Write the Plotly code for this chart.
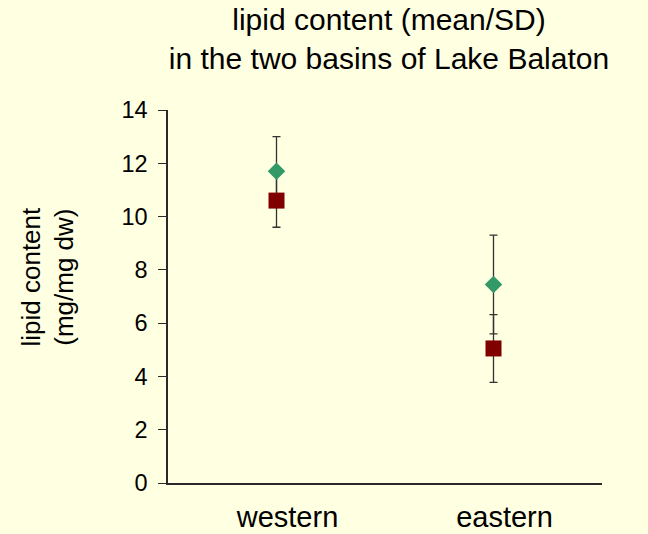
import plotly.graph_objects as go

# ---- data ----
basins = ["western", "eastern"]
series1_name = "series 1"
series1_mean = [11.7, 7.45]
series1_sd = [1.3, 1.85]
series2_name = "series 2"
series2_mean = [10.6, 5.05]
series2_sd = [1.0, 1.27]
y_ticks = [0, 2, 4, 6, 8, 10, 12, 14]

title_text = "lipid content (mean/SD)<br>in the two basins of Lake Balaton"
ytitle_text = "lipid content<br>(mg/mg dw)"

GREEN = "#339966"
RED = "#800000"
BG = "#FFFFE1"
FONT = "Liberation Sans, Arial, sans-serif"

fig = go.Figure()

# error bars first (under markers)
fig.add_trace(go.Scatter(
    x=basins, y=series1_mean, mode="markers", name=series1_name,
    marker=dict(size=1, opacity=0),
    error_y=dict(type="data", array=series1_sd, visible=True,
                 color="#333333", thickness=1.3, width=4),
    hoverinfo="skip", showlegend=False))
fig.add_trace(go.Scatter(
    x=basins, y=series2_mean, mode="markers", name=series2_name,
    marker=dict(size=1, opacity=0),
    error_y=dict(type="data", array=series2_sd, visible=True,
                 color="#333333", thickness=1.3, width=4),
    hoverinfo="skip", showlegend=False))
# markers
fig.add_trace(go.Scatter(
    x=basins, y=series2_mean, mode="markers", name=series2_name,
    marker=dict(symbol="square", size=16, color=RED, line=dict(width=0)),
    showlegend=False))
fig.add_trace(go.Scatter(
    x=basins, y=series1_mean, mode="markers", name=series1_name,
    marker=dict(symbol="diamond", size=13.5, color=GREEN, line=dict(width=0)),
    showlegend=False))

fig.update_layout(
    width=648, height=534,
    margin=dict(l=168, r=46, t=110, b=51, autoexpand=False),
    paper_bgcolor=BG, plot_bgcolor=BG,
    font=dict(family=FONT, color="#000000"),
    title=dict(text=title_text, font=dict(size=30, family=FONT, color="#000000"),
               x=389 / 648, xref="container", xanchor="center",
               y=1 - 30 / 534, yref="container", yanchor="top"),
    showlegend=False,
)

fig.update_xaxes(
    type="category", range=[-0.5, 1.5], automargin=False,
    showline=True, linecolor="#2a2a2a", linewidth=1.5,
    showgrid=False, zeroline=False, ticks="",
    tickfont=dict(size=29, family=FONT, color="#000000"),
    ticklabelshift=11, ticklabelstandoff=7,
)
fig.update_yaxes(
    range=[0, 14], tickvals=y_ticks, automargin=False,
    showline=True, linecolor="#2a2a2a", linewidth=1.5,
    showgrid=False, zeroline=False,
    ticks="outside", ticklen=8, tickwidth=1.3, tickcolor="#2a2a2a",
    tickfont=dict(size=23.5, family=FONT, color="#000000"),
    ticklabelstandoff=6,
)

fig.add_annotation(
    text=ytitle_text, textangle=-90,
    xref="paper", yref="paper",
    x=(47.5 - 168) / 434, y=(483 - 277) / 373,
    xanchor="center", yanchor="middle", showarrow=False,
    font=dict(size=26, family=FONT, color="#000000"),
)

fig.write_html("out.html")
